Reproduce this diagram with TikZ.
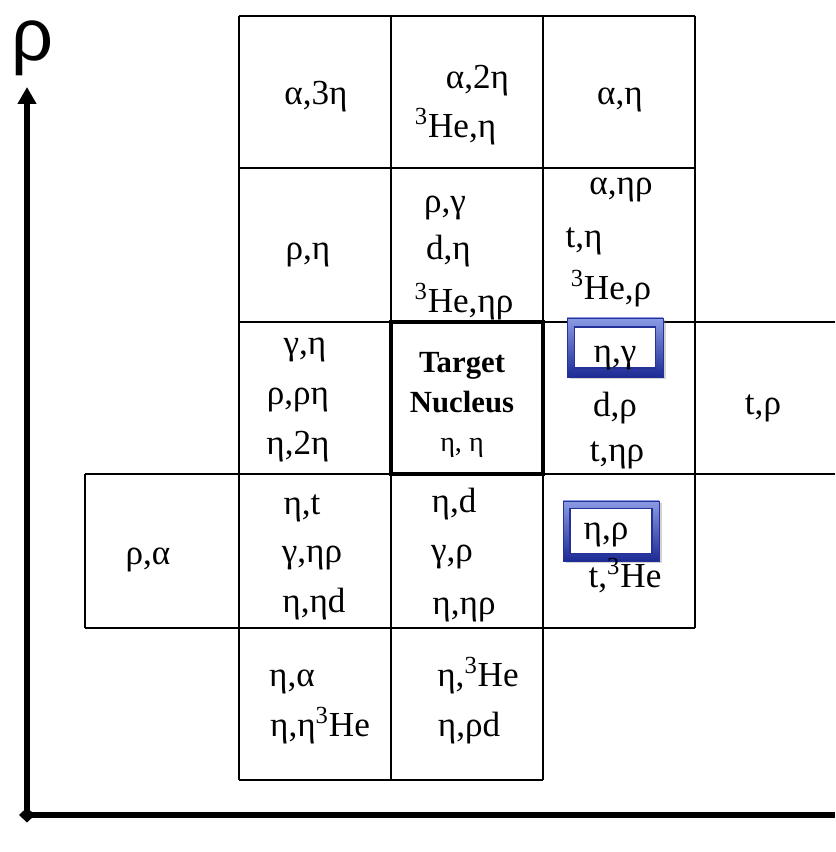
\documentclass[tikz,border=0pt]{standalone}
\usepackage{fontspec}
\setmainfont{Liberation Serif}
\newfontfamily\axisfont{Liberation Sans}
\usepackage{tikz}
\usetikzlibrary{arrows.meta,shadows}
\definecolor{hltop}{RGB}{140,155,228}
\definecolor{hlbot}{RGB}{28,42,148}
\definecolor{hledge}{RGB}{36,50,152}

\begin{document}
\begin{tikzpicture}[
    cell/.style={anchor=base, inner sep=0pt, font=\fontsize{20}{20}\selectfont},
    core/.style={anchor=base, inner sep=0pt, font=\fontsize{17.5}{17.5}\selectfont\bfseries},
    tabline/.style={line width=1.1pt},
    hlframe/.style={draw=hledge, line width=0.5pt, inner sep=0pt, top color=hltop, bottom color=hlbot,
        drop shadow={shadow xshift=0.05cm, shadow yshift=-0.05cm, opacity=0.35}},
    hlslot/.style={draw=hledge, line width=0.6pt, inner sep=0pt, fill=white}]
    \useasboundingbox (-0.54,-0.74) rectangle (16.16,16.30);
    % axes
    \draw [line width=3.4pt, -{Triangle[length=0.34cm,width=0.36cm]}] (0,0) -- (0,14.56);
    \draw [line width=3.4pt, {Diamond[length=0.32cm,width=0.30cm]}-] (-0.16,0) -- (16.16,0);
    \node [anchor=base, inner sep=0pt, text height=0.55em, font=\axisfont\fontsize{42}{42}\selectfont] (rho) at (0.1,15.08) {ρ};
    % table
    \draw [tabline] (4.24,15.98) -- (13.36,15.98);
    \draw [tabline] (4.24,12.94) -- (13.36,12.94);
    \draw [tabline] (4.24,9.86) -- (16.16,9.86);
    \draw [tabline] (1.16,6.82) -- (16.16,6.82);
    \draw [tabline] (1.16,3.74) -- (13.36,3.74);
    \draw [tabline] (4.24,0.70) -- (10.32,0.70);
    \draw [tabline] (1.16,3.74) -- (1.16,6.82);
    \draw [tabline] (4.24,0.70) -- (4.24,15.98);
    \draw [tabline] (7.28,0.70) -- (7.28,15.98);
    \draw [tabline] (10.32,0.70) -- (10.32,15.98);
    \draw [tabline] (13.36,3.74) -- (13.36,15.98);
    \draw [line width=2.8pt] (7.28,6.82) rectangle (10.32,9.86);
    % row 1
    \node [cell] (a3eta) at (5.78,14.20) {α,3η};
    \node [cell] (a2eta) at (9.01,14.52) {α,2η};
    \node [cell] (he3eta) at (8.57,13.54) {\textsuperscript{3}He,η};
    \node [cell] (aeta) at (11.86,14.20) {α,η};
    % row 2
    \node [cell] (peta) at (5.62,11.10) {ρ,η};
    \node [cell] (pgamma) at (8.36,12.04) {ρ,γ};
    \node [cell] (deta) at (8.43,11.10) {d,η};
    \node [cell] (he3etap) at (8.74,10.04) {\textsuperscript{3}He,ηρ};
    \node [cell] (aetap) at (11.88,12.40) {α,ηρ};
    \node [cell] (teta) at (11.14,11.34) {t,η};
    \node [cell] (he3p) at (11.68,10.30) {\textsuperscript{3}He,ρ};
    % row 3
    \node [cell] (gammaeta) at (5.56,9.20) {γ,η};
    \node [cell] (ppeta) at (5.42,8.20) {ρ,ρη};
    \node [cell] (eta2eta) at (5.42,7.20) {η,2η};
    \node [core] (target) at (8.70,8.84) {Target};
    \node [core] (nucleus) at (8.70,8.04) {Nucleus};
    \node [cell, font=\fontsize{16}{16}\selectfont] (etaeta) at (8.70,7.26) {η, η};
    \node [hlframe, minimum width=1.92cm, minimum height=1.18cm] (framegamma) at (11.76,9.35) {};
    \node [hlslot, minimum width=1.62cm, minimum height=0.82cm] (slotgamma) at (framegamma) {};
    \node [cell] (etagamma) at (11.76,9.04) {η,γ};
    \node [cell] (dp) at (11.76,7.96) {d,ρ};
    \node [cell] (tetap) at (11.80,7.06) {t,ηρ};
    \node [cell] (tp) at (14.72,8.00) {t,ρ};
    % row 4
    \node [cell] (palpha) at (2.42,5.00) {ρ,α};
    \node [cell] (etat) at (5.50,6.00) {η,t};
    \node [cell] (gammaetap) at (5.70,5.04) {γ,ηρ};
    \node [cell] (etaetad) at (5.74,4.04) {η,ηd};
    \node [cell] (etad) at (8.54,6.04) {η,d};
    \node [cell] (gammap) at (8.50,5.06) {γ,ρ};
    \node [cell] (etaetap) at (8.74,4.00) {η,ηρ};
    \node [hlframe, minimum width=1.92cm, minimum height=1.20cm] (framep) at (11.68,5.68) {};
    \node [hlslot, minimum width=1.64cm, minimum height=0.90cm] (slotp) at (framep) {};
    \node [cell] (etap) at (11.58,5.50) {η,ρ};
    \node [cell] (the3) at (11.96,4.54) {t,\textsuperscript{3}He};
    % row 5
    \node [cell] (etaalpha) at (5.30,2.56) {η,α};
    \node [cell] (etaetahe) at (5.86,1.56) {η,η\textsuperscript{3}He};
    \node [cell] (etahe) at (9.02,2.56) {η,\textsuperscript{3}He};
    \node [cell] (etapd) at (8.84,1.56) {η,ρd};
\end{tikzpicture}
\end{document}
